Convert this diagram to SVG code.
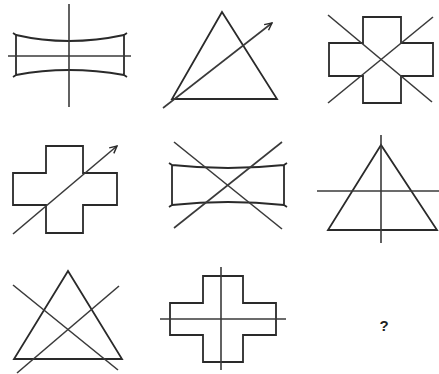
<svg xmlns="http://www.w3.org/2000/svg" width="439" height="374" viewBox="0 0 439 374">
<style>
.s{fill:none;stroke:#2a2a2a;stroke-width:1.8;stroke-linejoin:miter}
.l{fill:none;stroke:#3a3a3a;stroke-width:1.6}
.q{font-family:"Liberation Sans",Arial,sans-serif;font-size:15px;font-weight:bold;fill:#222}
</style>
<defs>
<marker id="ah" viewBox="0 0 10 10" refX="9" refY="5" markerWidth="9" markerHeight="9" markerUnits="userSpaceOnUse" orient="auto">
<path d="M1,1 L9,5 L1,9" fill="none" stroke="#2a2a2a" stroke-width="1.6"/>
</marker>
</defs>
<rect width="439" height="374" fill="#fff"/>
<g id="fig1">
<path class="s" d="M13,33 L16,35 L16,75 L13,77 M16,35 Q42,41 69,41 Q96,41 124,35 M127,33 L124,35 L124,75 L127,77 M16,75 Q42,70 69,70 Q96,70 124,75"/>
<line class="l" x1="69" y1="4" x2="69" y2="107"/>
<line class="l" x1="8" y1="56" x2="131" y2="56"/>
</g>
<g id="fig2">
<path class="s" d="M222,12 L172,99 L277,99 Z"/>
<line class="l" x1="163" y1="108" x2="272" y2="23" marker-end="url(#ah)"/>
</g>
<g id="fig3">
<path class="s" d="M363,17 L401,17 L401,43 L433,43 L433,76 L401,76 L401,103 L363,103 L363,76 L329,76 L329,43 L363,43 Z"/>
<line class="l" x1="328" y1="15" x2="432" y2="102"/>
<line class="l" x1="433" y1="17" x2="328" y2="103"/>
</g>
<g id="fig4">
<path class="s" d="M46,146 L83,146 L83,173 L117,173 L117,205 L83,205 L83,233 L46,233 L46,205 L13,205 L13,173 L46,173 Z"/>
<line class="l" x1="13" y1="234" x2="117" y2="146" marker-end="url(#ah)"/>
</g>
<g id="fig5">
<path class="s" d="M169,163 L172,165 L172,205 L169,207 M172,165 Q200,168 228,168 Q256,168 284,165 M287,163 L284,165 L284,205 L287,207 M172,205 Q200,202 228,202 Q256,202 284,205"/>
<line class="l" x1="174" y1="142" x2="282" y2="229"/>
<line class="l" x1="282" y1="142" x2="174" y2="228"/>
</g>
<g id="fig6">
<path class="s" d="M381,145 L328,230 L437,230 Z"/>
<line class="l" x1="381" y1="135" x2="381" y2="243"/>
<line class="l" x1="317" y1="191" x2="439" y2="191"/>
</g>
<g id="fig7">
<path class="s" d="M68,271 L14,359 L122,359 Z"/>
<line class="l" x1="13" y1="285" x2="118" y2="370"/>
<line class="l" x1="119" y1="286" x2="17" y2="373"/>
</g>
<g id="fig8">
<path class="s" d="M203,276 L243,276 L243,303 L276,303 L276,335 L243,335 L243,362 L203,362 L203,335 L170,335 L170,303 L203,303 Z"/>
<line class="l" x1="221" y1="267" x2="221" y2="370"/>
<line class="l" x1="160" y1="319" x2="286" y2="319"/>
</g>
<g id="fig9">
<text class="q" x="384" y="331" text-anchor="middle">?</text>
</g>
</svg>
